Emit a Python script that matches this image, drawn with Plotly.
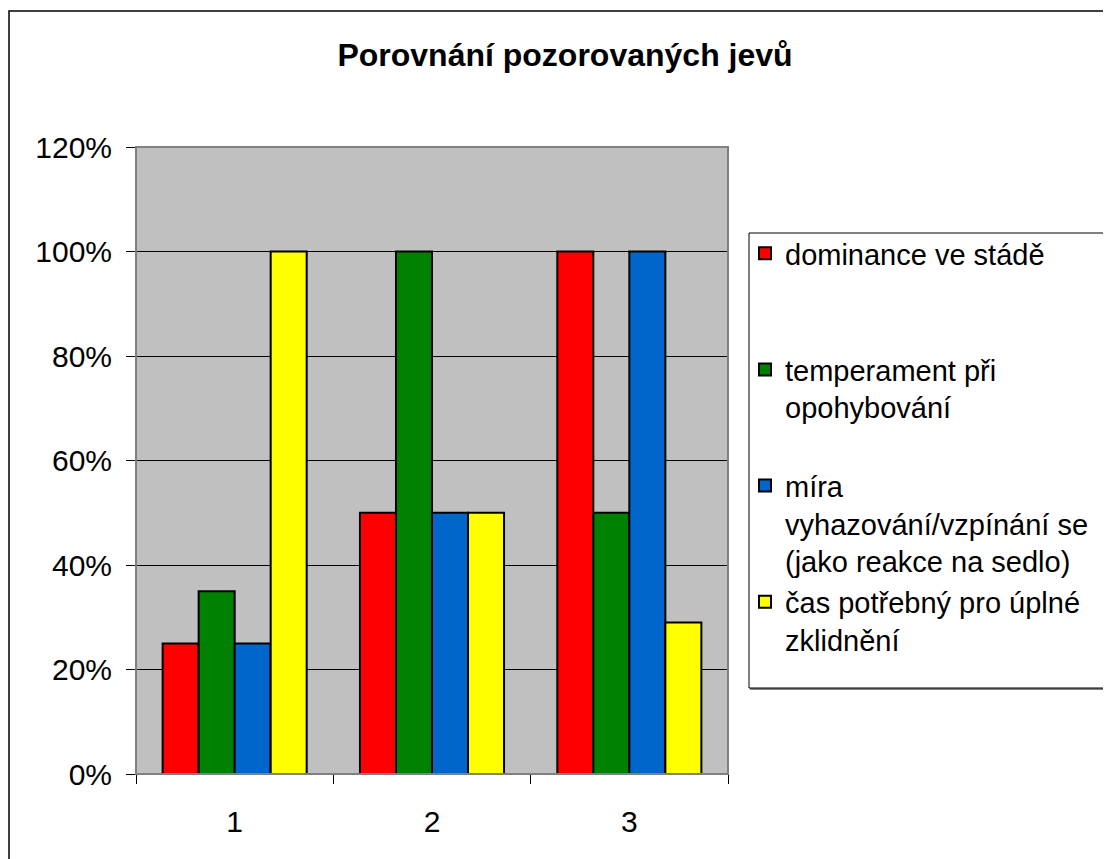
import plotly.graph_objects as go

categories = ["1", "2", "3"]
series_names = [
    "dominance ve stádě<br>&nbsp;<br>&nbsp;",
    "temperament při<br>opohybování<br>&nbsp;",
    "míra<br>vyhazování/vzpínání se<br>(jako reakce na sedlo)",
    "čas potřebný pro úplné<br>zklidnění<br>&nbsp;",
]
dominance = [0.25, 0.50, 1.00]
temperament = [0.35, 1.00, 0.50]
mira = [0.25, 0.50, 1.00]
cas = [1.00, 0.50, 0.29]
colors = ["#FF0000", "#008000", "#0066CC", "#FFFF00"]
y_ticks = [0, 0.2, 0.4, 0.6, 0.8, 1.0, 1.2]

FONT = "Arial, Liberation Sans, sans-serif"
OFF = 8  # page body margin
W, H = 1111, 859
L, T = 136 - OFF, 147 - OFF
PW, PH = 592, 627
R, B = W - L - PW, H - T - PH


def px(x):
    return (x - OFF - L) / PW


def py(y):
    return (H - B - (y - OFF)) / PH


fig = go.Figure()
for name, vals, col in zip(series_names, [dominance, temperament, mira, cas], colors):
    fig.add_trace(go.Bar(
        x=categories, y=vals, name=name,
        marker=dict(color=col, line=dict(color="black", width=2)),
    ))

shapes = [
    dict(type="rect", xref="paper", yref="paper", x0=0, x1=1, y0=0, y1=1,
         line=dict(color="#808080", width=2), layer="above"),
    dict(type="rect", xref="paper", yref="paper", x0=px(9), x1=px(1140), y0=py(11), y1=py(890),
         line=dict(color="black", width=1.5)),
    dict(type="line", xref="paper", yref="paper", x0=px(750), x1=px(1140), y0=py(689), y1=py(689),
         line=dict(color="#808080", width=2)),
    dict(type="rect", xref="paper", yref="paper", x0=px(749), x1=px(1140), y0=py(233), y1=py(688),
         line=dict(color="black", width=1), fillcolor="white"),
]

fig.update_layout(
    width=W, height=H,
    margin=dict(l=L, r=R, t=T, b=B),
    paper_bgcolor="white",
    plot_bgcolor="#C0C0C0",
    barmode="group",
    bargap=0.27,
    bargroupgap=0,
    font=dict(family=FONT, size=30, color="black"),
    title=dict(text="<b>Porovnání pozorovaných jevů</b>", x=(565 - OFF) / W, xanchor="center",
               y=1 - (55 - OFF) / H, yanchor="middle", font=dict(size=32, family=FONT, color="black")),
    showlegend=True,
    legend=dict(x=px(745), xanchor="left", y=py(228), yanchor="top",
                bgcolor="rgba(0,0,0,0)", borderwidth=0, valign="top",
                font=dict(size=29, family=FONT, color="black"), traceorder="normal"),
    shapes=shapes,
)
fig.update_xaxes(
    type="category", tickson="boundaries", ticks="outside", ticklen=9, tickcolor="black",
    tickwidth=1, showline=True, linecolor="black", linewidth=1, showgrid=False,
    ticklabelstandoff=21, tickfont=dict(size=30),
)
fig.update_yaxes(
    range=[0, 1.2], tickvals=y_ticks, tickformat=".0%", ticks="outside", ticklen=9,
    tickcolor="black", tickwidth=1, showline=True, linecolor="black", linewidth=1,
    showgrid=True, gridcolor="black", gridwidth=1, zeroline=False,
    ticklabelstandoff=8, tickfont=dict(size=30),
)
fig.write_html("out.html")
